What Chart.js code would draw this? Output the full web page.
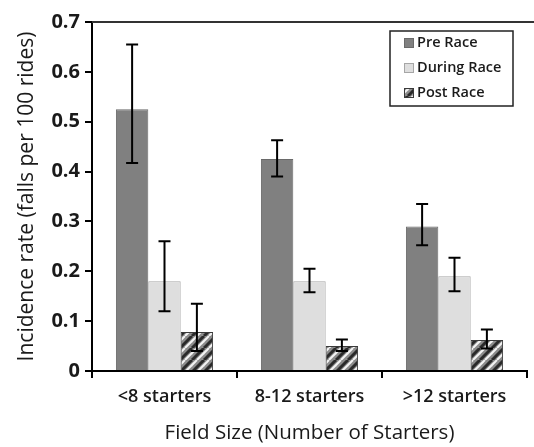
<!DOCTYPE html>
<html>
<head>
<meta charset="utf-8">
<script src="https://cdn.jsdelivr.net/npm/chart.js@4/dist/chart.umd.min.js"></script>
<style>
  html, body { margin: 0; padding: 0; background: #fff; }
  #wrap { width: 534px; height: 447px; }
</style>
</head>
<body>
<div id="wrap"><canvas id="fallsChart"></canvas></div>
<script>
const categories = ['<8 starters', '8-12 starters', '>12 starters'];
const seriesNames = ['Pre Race', 'During Race', 'Post Race'];

const preRace = [0.525, 0.425, 0.29];
const duringRace = [0.18, 0.18, 0.19];
const postRace = [0.078, 0.05, 0.062];

// error bar limits (lower, upper)
const preLow = [0.417, 0.39, 0.252];
const preHigh = [0.655, 0.463, 0.335];
const duringLow = [0.12, 0.158, 0.16];
const duringHigh = [0.26, 0.205, 0.227];
const postLow = [0.04, 0.04, 0.045];
const postHigh = [0.135, 0.063, 0.083];

const yTicks = [0, 0.1, 0.2, 0.3, 0.4, 0.5, 0.6, 0.7];

// hatched fill for post race
function makeHatch() {
    const c = document.createElement('canvas');
    c.width = 12; c.height = 12;
    const g = c.getContext('2d');
    g.fillStyle = '#8c8c8c';
    g.fillRect(0, 0, 12, 12);
    g.lineWidth = 3;
    g.strokeStyle = '#2a2a2a';
    for (let k = -12; k <= 24; k += 12) {
        g.beginPath(); g.moveTo(k, 12); g.lineTo(k + 12, 0); g.stroke();
    }
    g.lineWidth = 2;
    g.strokeStyle = '#f4f4f4';
    for (let k = -12; k <= 24; k += 12) {
        g.beginPath(); g.moveTo(k + 5, 12); g.lineTo(k + 17, 0); g.stroke();
    }
    return g.createPattern(c, 'repeat');
}
const hatch = makeHatch();

const errorBars = {
    id: 'errorBars',
    afterDatasetsDraw(chart) {
        const ctx = chart.ctx;
        const y = chart.scales.y;
        ctx.save();
        ctx.strokeStyle = '#000';
        ctx.lineWidth = 2;
        chart.data.datasets.forEach((ds, di) => {
            const meta = chart.getDatasetMeta(di);
            meta.data.forEach((bar, i) => {
                const x = bar.x;
                const y1 = y.getPixelForValue(ds.errLow[i]);
                const y2 = y.getPixelForValue(ds.errHigh[i]);
                ctx.beginPath();
                ctx.moveTo(x, y1); ctx.lineTo(x, y2);
                ctx.moveTo(x - 6, y1); ctx.lineTo(x + 6, y1);
                ctx.moveTo(x - 6, y2); ctx.lineTo(x + 6, y2);
                ctx.stroke();
            });
        });
        ctx.restore();
    }
};

const frameAndLegend = {
    id: 'frameAndLegend',
    afterDraw(chart) {
        const ctx = chart.ctx;
        const a = chart.chartArea;
        ctx.save();
        // top border of plot area
        ctx.strokeStyle = '#333';
        ctx.lineWidth = 2;
        ctx.beginPath();
        ctx.moveTo(a.left, a.top);
        ctx.lineTo(chart.width, a.top);
        ctx.stroke();

        // legend box
        const bx = 390, by = 31, bw = 123, bh = 75;
        ctx.fillStyle = '#fff';
        ctx.fillRect(bx, by, bw, bh);
        ctx.strokeStyle = '#222';
        ctx.lineWidth = 1.5;
        ctx.strokeRect(bx, by, bw, bh);
        ctx.font = '600 14.5px "Open Sans"';
        ctx.textBaseline = 'middle';
        chart.data.datasets.forEach((ds, i) => {
            const cy = by + 12 + i * 25;
            ctx.fillStyle = ds.backgroundColor;
            ctx.fillRect(bx + 14, cy - 5, 10, 10);
            ctx.strokeStyle = ds.borderColor;
            ctx.lineWidth = 1;
            ctx.strokeRect(bx + 14.5, cy - 4.5, 9, 9);
            ctx.fillStyle = '#1a1a1a';
            ctx.fillText(ds.label, bx + 27, cy);
        });
        ctx.restore();
    }
};

new Chart(document.getElementById('fallsChart'), {
    type: 'bar',
    data: {
        labels: categories,
        datasets: [
            { label: seriesNames[0], data: preRace, errLow: preLow, errHigh: preHigh,
              backgroundColor: '#808080', borderColor: '#6a6a6a', borderWidth: 1 },
            { label: seriesNames[1], data: duringRace, errLow: duringLow, errHigh: duringHigh,
              backgroundColor: '#dedede', borderColor: '#a6a6a6', borderWidth: 1 },
            { label: seriesNames[2], data: postRace, errLow: postLow, errHigh: postHigh,
              backgroundColor: hatch, borderColor: '#3a3a3a', borderWidth: 1 }
        ]
    },
    options: {
        responsive: true,
        maintainAspectRatio: false,
        animation: false,
        datasets: { bar: { categoryPercentage: 0.67, barPercentage: 1.0 } },
        layout: { padding: { left: 0, top: 22, right: 7, bottom: 0 } },
        plugins: {
            legend: { display: false },
            tooltip: { enabled: false }
        },
        scales: {
            x: {
                grid: { display: true, offset: true, drawOnChartArea: false, drawTicks: true,
                        tickLength: 7, color: '#000', lineWidth: 2 },
                border: { display: true, color: '#000', width: 2 },
                ticks: { color: '#1a1a1a', padding: 8, maxRotation: 0,
                         font: { family: 'Open Sans', size: 18, weight: '600' } },
                title: { display: true, text: 'Field Size (Number of Starters)', color: '#1a1a1a',
                         padding: { top: 2, bottom: 2 },
                         font: { family: 'Open Sans', size: 20.5 } },
                afterFit: s => { s.height = 76; }
            },
            y: {
                min: 0, max: 0.7,
                afterBuildTicks: s => { s.ticks = yTicks.map(v => ({ value: v })); },
                grid: { display: true, drawOnChartArea: false, drawTicks: true,
                        tickLength: 7, color: '#000', lineWidth: 2 },
                border: { display: true, color: '#000', width: 2 },
                ticks: { color: '#1a1a1a', padding: 5,
                         font: { family: 'Open Sans', size: 20, weight: 'bold' },
                         callback: v => String(Math.round(v * 10) / 10) },
                title: { display: true, text: 'Incidence rate (falls per 100 rides)', color: '#1a1a1a',
                         padding: { top: 14, bottom: 2 },
                         font: { family: 'Open Sans', size: 21 } },
                afterFit: s => { s.width = 92; }
            }
        }
    },
    plugins: [errorBars, frameAndLegend]
});
</script>
</body>
</html>
